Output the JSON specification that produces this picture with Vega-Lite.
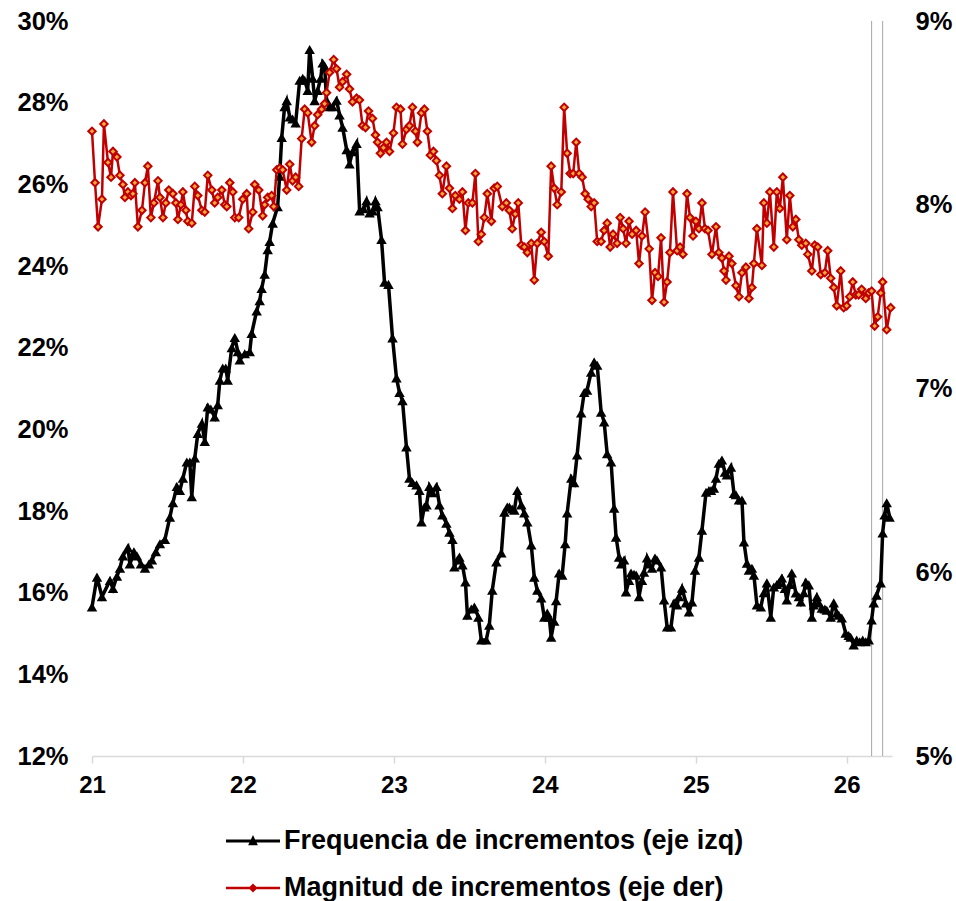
{
"$schema":"https://vega.github.io/schema/vega-lite/v6.json",
"width":800,"height":735,
"autosize":{"type":"none"},
"padding":{"left":92,"top":21,"right":64,"bottom":145},
"background":"white",
"config":{"view":{"stroke":null},"font":"Liberation Sans"},
"datasets":{
"freq":[{"t":21.000,"v":15.65},{"t":21.033,"v":16.38},{"t":21.066,"v":15.90},{"t":21.119,"v":16.30},{"t":21.139,"v":16.10},{"t":21.165,"v":16.40},{"t":21.185,"v":16.60},{"t":21.205,"v":16.90},{"t":21.238,"v":17.10},{"t":21.251,"v":16.70},{"t":21.278,"v":17.00},{"t":21.298,"v":16.90},{"t":21.324,"v":16.70},{"t":21.351,"v":16.60},{"t":21.377,"v":16.70},{"t":21.397,"v":16.80},{"t":21.423,"v":17.00},{"t":21.450,"v":17.20},{"t":21.483,"v":17.30},{"t":21.516,"v":17.85},{"t":21.536,"v":18.20},{"t":21.562,"v":18.60},{"t":21.582,"v":18.50},{"t":21.602,"v":18.80},{"t":21.628,"v":19.20},{"t":21.648,"v":19.20},{"t":21.661,"v":18.35},{"t":21.681,"v":19.30},{"t":21.701,"v":19.90},{"t":21.728,"v":20.15},{"t":21.747,"v":19.70},{"t":21.767,"v":20.55},{"t":21.787,"v":20.50},{"t":21.813,"v":20.30},{"t":21.833,"v":20.60},{"t":21.847,"v":21.20},{"t":21.866,"v":21.50},{"t":21.886,"v":21.50},{"t":21.899,"v":21.20},{"t":21.926,"v":22.00},{"t":21.946,"v":22.25},{"t":21.966,"v":21.90},{"t":21.979,"v":21.70},{"t":22.012,"v":21.85},{"t":22.045,"v":21.90},{"t":22.058,"v":22.35},{"t":22.091,"v":22.90},{"t":22.111,"v":23.15},{"t":22.124,"v":23.45},{"t":22.144,"v":23.80},{"t":22.164,"v":24.40},{"t":22.177,"v":24.60},{"t":22.197,"v":25.05},{"t":22.230,"v":25.45},{"t":22.243,"v":26.20},{"t":22.257,"v":27.15},{"t":22.276,"v":27.90},{"t":22.290,"v":28.05},{"t":22.310,"v":27.65},{"t":22.329,"v":27.60},{"t":22.349,"v":27.50},{"t":22.376,"v":28.55},{"t":22.396,"v":28.60},{"t":22.409,"v":28.55},{"t":22.429,"v":28.30},{"t":22.442,"v":29.30},{"t":22.462,"v":28.60},{"t":22.475,"v":28.05},{"t":22.495,"v":28.30},{"t":22.515,"v":28.60},{"t":22.528,"v":28.97},{"t":22.541,"v":28.90},{"t":22.554,"v":28.06},{"t":22.574,"v":27.90},{"t":22.594,"v":27.90},{"t":22.620,"v":28.06},{"t":22.640,"v":27.70},{"t":22.660,"v":27.40},{"t":22.687,"v":26.85},{"t":22.706,"v":26.50},{"t":22.726,"v":26.80},{"t":22.753,"v":27.00},{"t":22.773,"v":25.35},{"t":22.799,"v":25.40},{"t":22.819,"v":25.60},{"t":22.839,"v":25.30},{"t":22.859,"v":25.35},{"t":22.878,"v":25.60},{"t":22.892,"v":25.45},{"t":22.918,"v":24.65},{"t":22.938,"v":23.60},{"t":22.964,"v":23.55},{"t":22.991,"v":22.24},{"t":23.017,"v":21.26},{"t":23.037,"v":20.90},{"t":23.057,"v":20.70},{"t":23.083,"v":19.57},{"t":23.103,"v":18.80},{"t":23.123,"v":18.70},{"t":23.150,"v":18.64},{"t":23.169,"v":18.50},{"t":23.183,"v":17.73},{"t":23.202,"v":18.10},{"t":23.216,"v":18.15},{"t":23.235,"v":18.60},{"t":23.255,"v":18.45},{"t":23.282,"v":18.60},{"t":23.302,"v":18.15},{"t":23.321,"v":17.90},{"t":23.348,"v":17.70},{"t":23.368,"v":17.48},{"t":23.388,"v":17.30},{"t":23.401,"v":16.63},{"t":23.421,"v":16.80},{"t":23.434,"v":16.87},{"t":23.454,"v":16.68},{"t":23.474,"v":16.26},{"t":23.487,"v":15.45},{"t":23.513,"v":15.60},{"t":23.533,"v":15.65},{"t":23.560,"v":15.40},{"t":23.579,"v":14.84},{"t":23.612,"v":14.84},{"t":23.632,"v":15.20},{"t":23.652,"v":16.06},{"t":23.679,"v":16.75},{"t":23.712,"v":16.97},{"t":23.732,"v":17.97},{"t":23.751,"v":18.10},{"t":23.765,"v":18.10},{"t":23.784,"v":18.05},{"t":23.798,"v":18.02},{"t":23.818,"v":18.50},{"t":23.844,"v":18.15},{"t":23.864,"v":17.95},{"t":23.884,"v":17.73},{"t":23.910,"v":17.17},{"t":23.930,"v":16.38},{"t":23.950,"v":16.06},{"t":23.976,"v":15.87},{"t":23.996,"v":15.40},{"t":24.016,"v":15.50},{"t":24.029,"v":15.40},{"t":24.042,"v":14.91},{"t":24.062,"v":15.30},{"t":24.075,"v":15.80},{"t":24.095,"v":16.48},{"t":24.115,"v":16.43},{"t":24.135,"v":17.20},{"t":24.148,"v":17.95},{"t":24.175,"v":18.80},{"t":24.194,"v":18.69},{"t":24.214,"v":19.37},{"t":24.241,"v":20.40},{"t":24.261,"v":20.90},{"t":24.280,"v":20.96},{"t":24.307,"v":21.40},{"t":24.327,"v":21.65},{"t":24.347,"v":21.57},{"t":24.373,"v":20.42},{"t":24.393,"v":20.18},{"t":24.413,"v":19.40},{"t":24.439,"v":19.20},{"t":24.459,"v":18.07},{"t":24.472,"v":17.36},{"t":24.492,"v":16.87},{"t":24.505,"v":16.70},{"t":24.525,"v":16.80},{"t":24.538,"v":16.02},{"t":24.558,"v":16.30},{"t":24.571,"v":16.48},{"t":24.591,"v":16.45},{"t":24.605,"v":16.43},{"t":24.624,"v":15.90},{"t":24.644,"v":16.30},{"t":24.657,"v":16.50},{"t":24.677,"v":16.85},{"t":24.691,"v":16.70},{"t":24.710,"v":16.60},{"t":24.730,"v":16.85},{"t":24.743,"v":16.80},{"t":24.770,"v":16.63},{"t":24.790,"v":15.82},{"t":24.810,"v":15.16},{"t":24.836,"v":15.16},{"t":24.856,"v":15.75},{"t":24.876,"v":15.70},{"t":24.889,"v":15.90},{"t":24.909,"v":16.11},{"t":24.935,"v":15.75},{"t":24.955,"v":15.53},{"t":24.975,"v":15.77},{"t":24.995,"v":16.55},{"t":25.021,"v":16.87},{"t":25.041,"v":17.53},{"t":25.068,"v":18.46},{"t":25.087,"v":18.50},{"t":25.101,"v":18.50},{"t":25.120,"v":18.56},{"t":25.134,"v":18.80},{"t":25.153,"v":19.17},{"t":25.173,"v":19.25},{"t":25.193,"v":18.95},{"t":25.206,"v":18.88},{"t":25.233,"v":19.07},{"t":25.253,"v":18.43},{"t":25.266,"v":18.40},{"t":25.286,"v":18.27},{"t":25.306,"v":18.27},{"t":25.319,"v":17.24},{"t":25.339,"v":16.72},{"t":25.352,"v":16.55},{"t":25.372,"v":16.60},{"t":25.385,"v":16.43},{"t":25.405,"v":15.70},{"t":25.431,"v":15.65},{"t":25.451,"v":16.00},{"t":25.471,"v":16.24},{"t":25.497,"v":15.40},{"t":25.517,"v":16.14},{"t":25.537,"v":16.20},{"t":25.550,"v":16.24},{"t":25.570,"v":16.36},{"t":25.590,"v":16.10},{"t":25.603,"v":15.82},{"t":25.623,"v":16.20},{"t":25.636,"v":16.48},{"t":25.663,"v":15.99},{"t":25.683,"v":15.90},{"t":25.696,"v":15.77},{"t":25.716,"v":16.00},{"t":25.729,"v":16.26},{"t":25.749,"v":16.19},{"t":25.769,"v":15.40},{"t":25.782,"v":15.70},{"t":25.802,"v":15.90},{"t":25.815,"v":15.75},{"t":25.835,"v":15.62},{"t":25.855,"v":15.60},{"t":25.868,"v":15.57},{"t":25.894,"v":15.40},{"t":25.914,"v":15.75},{"t":25.934,"v":15.50},{"t":25.947,"v":15.45},{"t":25.967,"v":15.38},{"t":25.993,"v":15.01},{"t":26.013,"v":14.95},{"t":26.026,"v":14.91},{"t":26.046,"v":14.72},{"t":26.066,"v":14.84},{"t":26.086,"v":14.80},{"t":26.106,"v":14.84},{"t":26.126,"v":14.80},{"t":26.146,"v":14.84},{"t":26.165,"v":15.33},{"t":26.179,"v":15.75},{"t":26.198,"v":15.94},{"t":26.225,"v":16.24},{"t":26.238,"v":17.46},{"t":26.251,"v":17.90},{"t":26.265,"v":18.20},{"t":26.284,"v":17.85}],
"mag":[{"t":21.000,"v":8.40},{"t":21.020,"v":8.12},{"t":21.040,"v":7.88},{"t":21.066,"v":8.03},{"t":21.079,"v":8.44},{"t":21.106,"v":8.23},{"t":21.126,"v":8.15},{"t":21.139,"v":8.29},{"t":21.165,"v":8.26},{"t":21.185,"v":8.16},{"t":21.205,"v":8.11},{"t":21.218,"v":8.04},{"t":21.238,"v":8.07},{"t":21.258,"v":8.05},{"t":21.271,"v":8.06},{"t":21.284,"v":8.12},{"t":21.304,"v":7.88},{"t":21.331,"v":7.97},{"t":21.351,"v":8.12},{"t":21.370,"v":8.21},{"t":21.390,"v":7.93},{"t":21.410,"v":8.01},{"t":21.437,"v":8.13},{"t":21.450,"v":8.04},{"t":21.470,"v":7.93},{"t":21.489,"v":8.01},{"t":21.509,"v":8.08},{"t":21.536,"v":8.06},{"t":21.556,"v":8.01},{"t":21.569,"v":7.92},{"t":21.589,"v":8.00},{"t":21.602,"v":8.07},{"t":21.622,"v":7.97},{"t":21.635,"v":7.91},{"t":21.661,"v":7.90},{"t":21.681,"v":8.10},{"t":21.701,"v":8.05},{"t":21.728,"v":7.97},{"t":21.747,"v":7.96},{"t":21.767,"v":8.16},{"t":21.794,"v":8.08},{"t":21.813,"v":8.01},{"t":21.833,"v":8.04},{"t":21.860,"v":8.08},{"t":21.880,"v":8.00},{"t":21.893,"v":7.99},{"t":21.913,"v":8.12},{"t":21.933,"v":8.07},{"t":21.946,"v":7.93},{"t":21.972,"v":7.93},{"t":21.999,"v":8.03},{"t":22.025,"v":8.06},{"t":22.038,"v":7.87},{"t":22.065,"v":7.96},{"t":22.078,"v":8.11},{"t":22.105,"v":8.08},{"t":22.131,"v":7.94},{"t":22.144,"v":8.00},{"t":22.164,"v":8.04},{"t":22.190,"v":8.05},{"t":22.204,"v":7.99},{"t":22.224,"v":8.19},{"t":22.243,"v":8.20},{"t":22.263,"v":8.19},{"t":22.290,"v":8.08},{"t":22.310,"v":8.22},{"t":22.329,"v":8.13},{"t":22.349,"v":8.15},{"t":22.369,"v":8.10},{"t":22.389,"v":8.36},{"t":22.409,"v":8.52},{"t":22.429,"v":8.50},{"t":22.455,"v":8.34},{"t":22.475,"v":8.43},{"t":22.495,"v":8.49},{"t":22.521,"v":8.52},{"t":22.541,"v":8.55},{"t":22.554,"v":8.61},{"t":22.574,"v":8.72},{"t":22.601,"v":8.79},{"t":22.620,"v":8.74},{"t":22.640,"v":8.64},{"t":22.660,"v":8.67},{"t":22.687,"v":8.71},{"t":22.706,"v":8.63},{"t":22.726,"v":8.56},{"t":22.753,"v":8.58},{"t":22.772,"v":8.57},{"t":22.792,"v":8.43},{"t":22.812,"v":8.42},{"t":22.832,"v":8.51},{"t":22.858,"v":8.47},{"t":22.878,"v":8.38},{"t":22.892,"v":8.34},{"t":22.911,"v":8.28},{"t":22.931,"v":8.31},{"t":22.951,"v":8.34},{"t":22.971,"v":8.29},{"t":22.997,"v":8.39},{"t":23.017,"v":8.53},{"t":23.044,"v":8.52},{"t":23.057,"v":8.33},{"t":23.083,"v":8.41},{"t":23.103,"v":8.43},{"t":23.123,"v":8.53},{"t":23.143,"v":8.40},{"t":23.156,"v":8.34},{"t":23.183,"v":8.50},{"t":23.202,"v":8.52},{"t":23.222,"v":8.40},{"t":23.242,"v":8.27},{"t":23.262,"v":8.29},{"t":23.282,"v":8.24},{"t":23.302,"v":8.16},{"t":23.321,"v":8.06},{"t":23.348,"v":8.21},{"t":23.368,"v":8.09},{"t":23.388,"v":7.98},{"t":23.407,"v":8.05},{"t":23.434,"v":8.03},{"t":23.454,"v":8.07},{"t":23.474,"v":7.86},{"t":23.493,"v":8.01},{"t":23.520,"v":8.01},{"t":23.540,"v":8.17},{"t":23.560,"v":7.80},{"t":23.579,"v":7.84},{"t":23.599,"v":7.93},{"t":23.619,"v":8.06},{"t":23.646,"v":7.91},{"t":23.665,"v":8.09},{"t":23.685,"v":8.10},{"t":23.718,"v":7.99},{"t":23.745,"v":8.01},{"t":23.765,"v":7.97},{"t":23.784,"v":7.87},{"t":23.804,"v":7.95},{"t":23.824,"v":8.01},{"t":23.844,"v":7.78},{"t":23.864,"v":7.77},{"t":23.884,"v":7.74},{"t":23.910,"v":7.79},{"t":23.930,"v":7.59},{"t":23.950,"v":7.79},{"t":23.976,"v":7.85},{"t":23.996,"v":7.80},{"t":24.023,"v":7.72},{"t":24.042,"v":8.21},{"t":24.062,"v":8.09},{"t":24.082,"v":8.00},{"t":24.109,"v":8.07},{"t":24.128,"v":8.53},{"t":24.148,"v":8.28},{"t":24.168,"v":8.17},{"t":24.188,"v":8.17},{"t":24.208,"v":8.34},{"t":24.228,"v":8.17},{"t":24.247,"v":8.15},{"t":24.267,"v":8.06},{"t":24.287,"v":8.03},{"t":24.307,"v":7.99},{"t":24.327,"v":8.01},{"t":24.347,"v":7.80},{"t":24.373,"v":7.80},{"t":24.393,"v":7.86},{"t":24.413,"v":7.90},{"t":24.433,"v":7.77},{"t":24.452,"v":7.84},{"t":24.479,"v":7.79},{"t":24.499,"v":7.93},{"t":24.519,"v":7.87},{"t":24.538,"v":7.79},{"t":24.558,"v":7.91},{"t":24.578,"v":7.84},{"t":24.605,"v":7.86},{"t":24.624,"v":7.68},{"t":24.644,"v":7.83},{"t":24.664,"v":7.96},{"t":24.691,"v":7.76},{"t":24.710,"v":7.48},{"t":24.730,"v":7.63},{"t":24.750,"v":7.61},{"t":24.770,"v":7.82},{"t":24.790,"v":7.47},{"t":24.810,"v":7.58},{"t":24.829,"v":7.74},{"t":24.849,"v":8.07},{"t":24.876,"v":7.75},{"t":24.896,"v":7.77},{"t":24.915,"v":7.73},{"t":24.942,"v":8.06},{"t":24.962,"v":7.93},{"t":24.982,"v":7.83},{"t":25.001,"v":7.91},{"t":25.021,"v":7.87},{"t":25.041,"v":8.01},{"t":25.061,"v":7.87},{"t":25.081,"v":7.86},{"t":25.107,"v":7.73},{"t":25.134,"v":7.88},{"t":25.153,"v":7.74},{"t":25.173,"v":7.71},{"t":25.187,"v":7.64},{"t":25.200,"v":7.59},{"t":25.220,"v":7.72},{"t":25.239,"v":7.68},{"t":25.266,"v":7.56},{"t":25.286,"v":7.50},{"t":25.306,"v":7.63},{"t":25.332,"v":7.66},{"t":25.352,"v":7.49},{"t":25.372,"v":7.55},{"t":25.385,"v":7.68},{"t":25.405,"v":7.87},{"t":25.438,"v":7.67},{"t":25.451,"v":8.01},{"t":25.471,"v":7.90},{"t":25.491,"v":8.07},{"t":25.517,"v":7.77},{"t":25.537,"v":8.07},{"t":25.557,"v":7.98},{"t":25.577,"v":8.15},{"t":25.603,"v":7.81},{"t":25.623,"v":8.05},{"t":25.643,"v":7.88},{"t":25.663,"v":7.92},{"t":25.683,"v":7.81},{"t":25.702,"v":7.78},{"t":25.729,"v":7.79},{"t":25.742,"v":7.73},{"t":25.769,"v":7.64},{"t":25.788,"v":7.78},{"t":25.808,"v":7.77},{"t":25.828,"v":7.62},{"t":25.855,"v":7.63},{"t":25.874,"v":7.75},{"t":25.894,"v":7.60},{"t":25.914,"v":7.55},{"t":25.934,"v":7.45},{"t":25.960,"v":7.64},{"t":25.980,"v":7.44},{"t":26.000,"v":7.45},{"t":26.020,"v":7.50},{"t":26.040,"v":7.58},{"t":26.060,"v":7.51},{"t":26.079,"v":7.51},{"t":26.099,"v":7.54},{"t":26.126,"v":7.49},{"t":26.146,"v":7.52},{"t":26.165,"v":7.53},{"t":26.185,"v":7.34},{"t":26.205,"v":7.39},{"t":26.225,"v":7.52},{"t":26.238,"v":7.58},{"t":26.265,"v":7.32},{"t":26.291,"v":7.44}],
"marks":[{"t":26.165},{"t":26.238}],
"series":[{"s":"Frequencia de incrementos (eje izq)"},{"s":"Magnitud de incrementos (eje der)"}]
},
"encoding":{
"x":{"field":"t","type":"quantitative","scale":{"domain":[21,26.3],"nice":false,"zero":false},
"axis":{"title":null,"values":[21,22,23,24,25,26],"format":"d","grid":false,"domainColor":"#D9D9D9","domainWidth":1.5,"tickColor":"#D9D9D9","tickWidth":1.5,"tickSize":7,"labelFont":"Liberation Sans","labelFontWeight":"bold","labelFontSize":24,"labelColor":"#000000","labelPadding":10,"labelFlush":false}}
},
"layer":[
{"layer":[
{"data":{"name":"marks"},"mark":{"type":"rule","color":"#A6A6A6","strokeWidth":1},"encoding":{}},
{"data":{"name":"freq"},"mark":{"type":"line","color":"#000000","strokeWidth":3.5},
"encoding":{"y":{"field":"v","type":"quantitative","scale":{"domain":[12,30],"nice":false,"zero":false},
"axis":{"title":null,"values":[12,14,16,18,20,22,24,26,28,30],"labelExpr":"datum.value + '%'","grid":false,"domain":false,"ticks":false,"labelPadding":24,"labelFont":"Liberation Sans","labelFontWeight":"bold","labelFontSize":25.5,"labelColor":"#000000"}}}},
{"data":{"name":"freq"},"mark":{"type":"point","shape":"triangle-up","filled":true,"color":"#000000","opacity":1,"size":110},
"encoding":{"y":{"field":"v","type":"quantitative"}}},
{"data":{"name":"series"},"mark":{"type":"point","filled":true,"opacity":0},
"encoding":{
"color":{"field":"s","type":"nominal","scale":{"domain":["Frequencia de incrementos (eje izq)","Magnitud de incrementos (eje der)"],"range":["#000000","#C00000"]},
"legend":{"title":null,"orient":"none","legendX":134,"legendY":793,"direction":"vertical","padding":0,"rowPadding":7,"labelFont":"Liberation Sans","labelFontWeight":"bold","labelFontSize":27,"labelColor":"#000000","labelOffset":4,"symbolSize":2916,"symbolOpacity":1,"symbolStrokeWidth":0,"labelLimit":0,
"encode":{"symbols":{"update":{"opacity":{"value":1},"fillOpacity":{"value":1}}}}}},
"shape":{"field":"s","type":"nominal","scale":{"domain":["Frequencia de incrementos (eje izq)","Magnitud de incrementos (eje der)"],"range":["M-1,-0.06H1V0.06H-1Z M-0.18,0.16L0,-0.22L0.18,0.16Z","M-1,-0.045H1V0.045H-1Z M0,-0.17L0.17,0L0,0.17L-0.17,0Z"]}}
}}
]},
{"layer":[
{"data":{"name":"mag"},"mark":{"type":"line","color":"#C00000","strokeWidth":2.5},
"encoding":{"y":{"field":"v","type":"quantitative","scale":{"domain":[5,9],"nice":false,"zero":false},
"axis":{"orient":"right","title":null,"values":[5,6,7,8,9],"labelExpr":"datum.value + '%'","grid":false,"domain":false,"ticks":false,"labelPadding":23,"labelFont":"Liberation Sans","labelFontWeight":"bold","labelFontSize":25.5,"labelColor":"#000000"}}}},
{"data":{"name":"mag"},"mark":{"type":"point","shape":"diamond","filled":true,"fill":"#F4A83C","stroke":"#C00000","strokeWidth":2,"opacity":1,"size":55},
"encoding":{"y":{"field":"v","type":"quantitative"}}}
]}
],
"resolve":{"scale":{"y":"independent"},"axis":{"y":"independent"}}
}
